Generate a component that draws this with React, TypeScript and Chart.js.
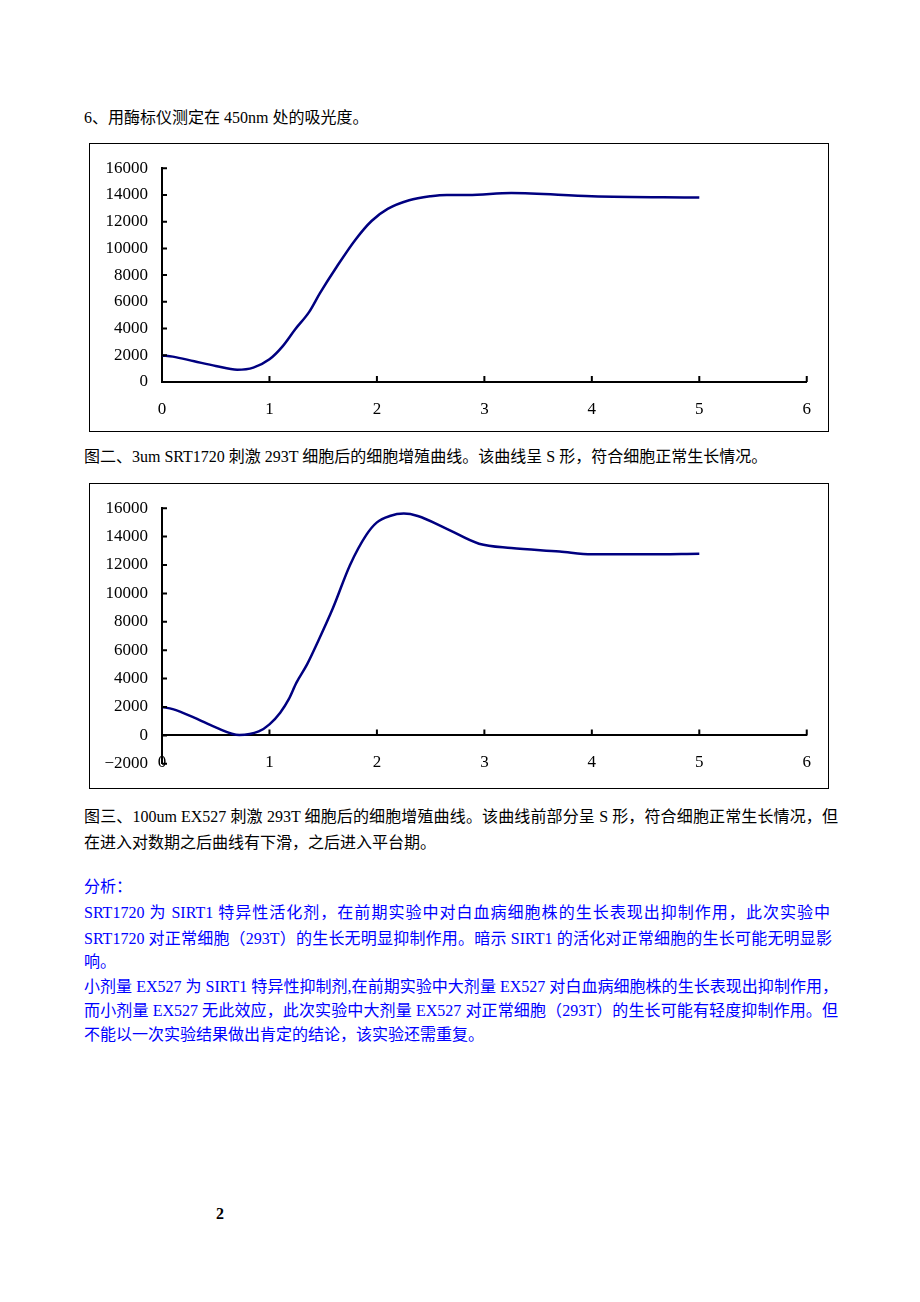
import React, { useEffect, useRef } from "react";
import { Chart, registerables } from "chart.js";

Chart.register(...registerables);

// ---- Data ----
const xTickLabels = [0, 1, 2, 3, 4, 5, 6];

// Figure 2: 3um SRT1720
const srtDays = [0, 0.1, 0.3, 0.5, 0.7, 0.85, 1.0, 1.12, 1.24, 1.37, 1.47, 1.62, 1.8, 1.95, 2.1, 2.3, 2.5, 2.65, 2.85, 3.25, 4, 5];
const srtValues = [1980, 1900, 1550, 1200, 920, 1080, 1700, 2650, 3950, 5250, 6650, 8550, 10650, 12050, 12950, 13600, 13900, 14000, 14000, 14150, 13900, 13800];
const srtYTicks = [0, 2000, 4000, 6000, 8000, 10000, 12000, 14000, 16000];

// Figure 3: 100um EX527
const exDays = [0, 0.1, 0.3, 0.5, 0.72, 0.9, 1.0, 1.1, 1.18, 1.25, 1.35, 1.46, 1.59, 1.75, 1.9, 2.0, 2.12, 2.25, 2.38, 2.65, 2.95, 3.25, 3.7, 4.0, 4.5, 5.0];
const exValues = [2000, 1850, 1250, 560, 30, 280, 780, 1600, 2550, 3700, 5000, 6750, 8950, 12000, 14100, 15000, 15450, 15620, 15450, 14550, 13500, 13200, 12950, 12750, 12750, 12800];
const exYTicks = [-2000, 0, 2000, 4000, 6000, 8000, 10000, 12000, 14000, 16000];

const CURVE_COLOR = "#000080";
const TICK_FONT = { family: '"Liberation Serif", "DejaVu Serif", serif', size: 17 };

const innerTicks = {
  id: "innerTicks",
  afterDraw(chart: any) {
    const { ctx, chartArea } = chart;
    const xs = chart.scales.x;
    const ys = chart.scales.y;
    const y0 = ys.getPixelForValue(0);
    ctx.save();
    ctx.strokeStyle = "#000";
    ctx.lineWidth = 2;
    ctx.beginPath();
    xs.ticks.forEach((t: any) => {
      if (t.value === 0) return;
      const px = xs.getPixelForValue(t.value);
      ctx.moveTo(px, y0);
      ctx.lineTo(px, y0 - 6);
    });
    ys.ticks.forEach((t: any) => {
      const py = ys.getPixelForValue(t.value);
      ctx.moveTo(chartArea.left, py);
      ctx.lineTo(chartArea.left + 5, py);
    });
    ctx.stroke();
    ctx.restore();
  },
};

type ChartProps = {
  xs: number[];
  ys: number[];
  yTicks: number[];
  width: number;
  height: number;
  padTop: number;
  padRight: number;
  padBottom: number;
};

function GrowthChart({ xs, ys, yTicks, width, height, padTop, padRight, padBottom }: ChartProps) {
  const ref = useRef<HTMLCanvasElement | null>(null);
  useEffect(() => {
    if (!ref.current) return;
    const data = xs.map((x, i) => ({ x, y: ys[i] }));
    const chart = new Chart(ref.current, {
      type: "line",
      data: {
        datasets: [
          {
            data,
            borderColor: CURVE_COLOR,
            borderWidth: 2.5,
            pointRadius: 0,
            fill: false,
            cubicInterpolationMode: "monotone",
          },
        ],
      },
      options: {
        animation: false,
        responsive: false,
        events: [],
        layout: { padding: { top: padTop, right: padRight, bottom: padBottom, left: 0 } },
        plugins: { legend: { display: false }, tooltip: { enabled: false } },
        scales: {
          x: {
            type: "linear",
            position: { y: 0 } as any,
            min: xTickLabels[0],
            max: xTickLabels[xTickLabels.length - 1],
            grid: { display: false, drawTicks: false },
            border: { display: true, color: "#000", width: 2 },
            ticks: {
              stepSize: 1,
              color: "#000",
              font: TICK_FONT,
              padding: 17,
              maxRotation: 0,
              callback: (v: any) => String(v),
            },
          },
          y: {
            type: "linear",
            position: "left",
            min: yTicks[0],
            max: yTicks[yTicks.length - 1],
            grid: { display: false, drawTicks: false },
            border: { display: true, color: "#000", width: 2 },
            ticks: {
              stepSize: 2000,
              color: "#000",
              font: TICK_FONT,
              padding: 14,
              callback: (v: any) => (Number(v) < 0 ? "\u2212" + String(Math.abs(Number(v))) : String(v)),
            },
            afterFit: (s: any) => {
              s.width = 72;
            },
          },
        },
      },
      plugins: [innerTicks],
    });
    return () => chart.destroy();
  }, []);
  return <canvas ref={ref} width={width} height={height} style={{ display: "block", width, height }} />;
}

const TEXT_FONT = '"Liberation Serif", "Noto Sans CJK SC", serif';

function TextLine({ top, width, color = "#000", justify = true, children }: any) {
  return (
    <div
      style={{
        position: "absolute",
        left: 84,
        top,
        width,
        height: 20,
        lineHeight: "20px",
        fontSize: 16,
        fontFamily: TEXT_FONT,
        color,
        whiteSpace: justify ? "normal" : "nowrap",
        textAlign: justify ? "justify" : "left",
        textAlignLast: justify ? "justify" : "left",
      } as any}
    >
      {children}
    </div>
  );
}

export default function App() {
  const blue = "#0000FF";
  return (
    <div style={{ position: "absolute", left: 0, top: 0, width: 920, height: 1302, background: "#fff", overflow: "hidden" }}>
      <TextLine top={108} width={400} justify={false}>6、用酶标仪测定在 450nm 处的吸光度。</TextLine>

      <div style={{ position: "absolute", left: 89, top: 143, width: 740, height: 289, border: "1px solid #000", boxSizing: "border-box" }}>
        <GrowthChart xs={srtDays} ys={srtValues} yTicks={srtYTicks} width={738} height={287} padTop={23} padRight={18} padBottom={49} />
      </div>

      <TextLine top={447} width={760} justify={false}>图二、3um SRT1720 刺激 293T 细胞后的细胞增殖曲线。该曲线呈 S 形，符合细胞正常生长情况。</TextLine>

      <div style={{ position: "absolute", left: 89, top: 483, width: 740, height: 306, border: "1px solid #000", boxSizing: "border-box" }}>
        <GrowthChart xs={exDays} ys={exValues} yTicks={exYTicks} width={738} height={304} padTop={24} padRight={18} padBottom={22} />
      </div>

      <TextLine top={807} width={754}>图三、100um EX527 刺激 293T 细胞后的细胞增殖曲线。该曲线前部分呈 S 形，符合细胞正常生长情况，但</TextLine>
      <TextLine top={833} width={500} justify={false}>在进入对数期之后曲线有下滑，之后进入平台期。</TextLine>

      <TextLine top={877} width={100} color={blue} justify={false}>分析：</TextLine>
      <TextLine top={903} width={746} color={blue}>SRT1720 为 SIRT1 特异性活化剂，在前期实验中对白血病细胞株的生长表现出抑制作用，此次实验中</TextLine>
      <TextLine top={929} width={748} color={blue}>SRT1720 对正常细胞（293T）的生长无明显抑制作用。暗示 SIRT1 的活化对正常细胞的生长可能无明显影</TextLine>
      <TextLine top={952} width={100} color={blue} justify={false}>响。</TextLine>
      <TextLine top={977} width={754} color={blue}>小剂量 EX527 为 SIRT1 特异性抑制剂,在前期实验中大剂量 EX527 对白血病细胞株的生长表现出抑制作用，</TextLine>
      <TextLine top={1001} width={754} color={blue}>而小剂量 EX527 无此效应，此次实验中大剂量 EX527 对正常细胞（293T）的生长可能有轻度抑制作用。但</TextLine>
      <TextLine top={1025} width={500} color={blue} justify={false}>不能以一次实验结果做出肯定的结论，该实验还需重复。</TextLine>

      <div style={{ position: "absolute", left: 216, top: 1204, height: 20, lineHeight: "20px", fontSize: 16, fontWeight: "bold", fontFamily: TEXT_FONT, color: "#000" }}>2</div>
    </div>
  );
}
